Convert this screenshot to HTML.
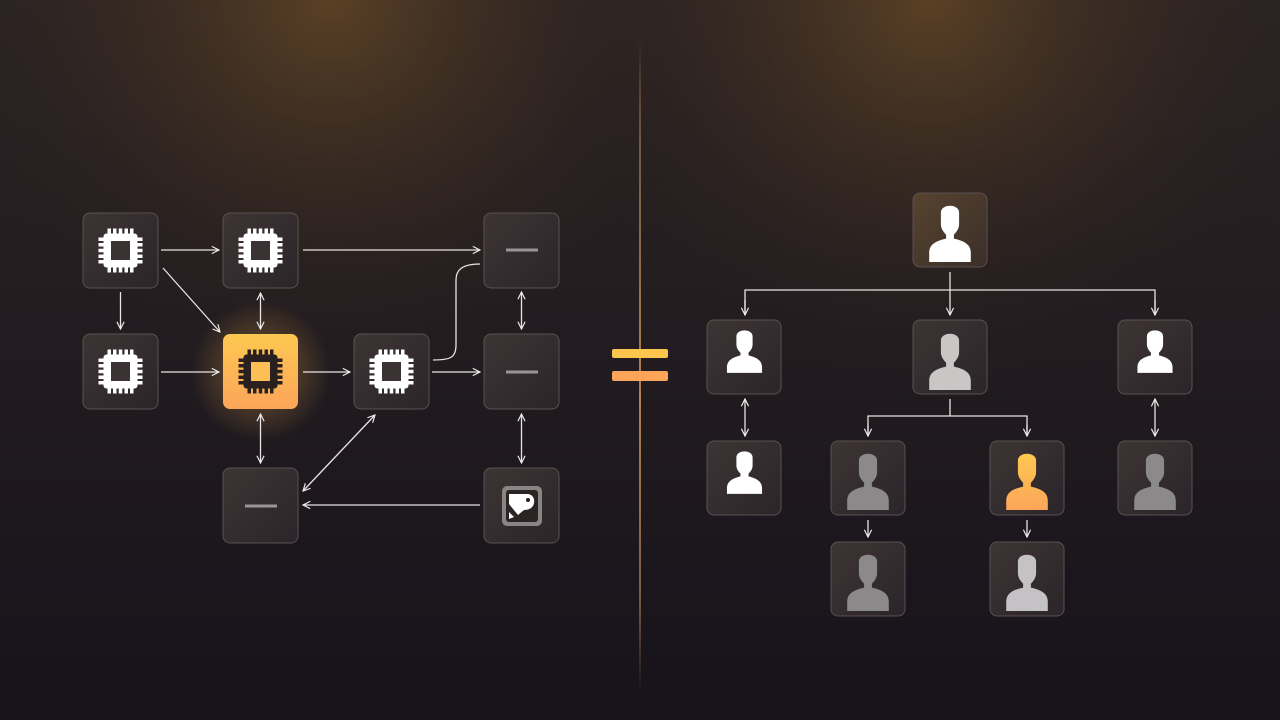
<!DOCTYPE html>
<html><head><meta charset="utf-8"><style>
html,body{margin:0;padding:0;width:1280px;height:720px;overflow:hidden;background:#1c171b}
</style></head><body>
<svg width="1280" height="720" viewBox="0 0 1280 720" xmlns="http://www.w3.org/2000/svg">
<defs>
<radialGradient id="g1" cx="330" cy="0" r="420" gradientUnits="userSpaceOnUse"><stop offset="0" stop-color="#6a4a25" stop-opacity="0.75"/><stop offset="1" stop-color="#1c171b" stop-opacity="0"/></radialGradient>
<radialGradient id="g2" cx="930" cy="0" r="420" gradientUnits="userSpaceOnUse"><stop offset="0" stop-color="#6a4a25" stop-opacity="0.75"/><stop offset="1" stop-color="#1c171b" stop-opacity="0"/></radialGradient>
<linearGradient id="bg" x1="0" y1="0" x2="0" y2="1"><stop offset="0" stop-color="#2c2424"/><stop offset="1" stop-color="#17131b"/></linearGradient>
<linearGradient id="node" x1="0" y1="0" x2="1" y2="1"><stop offset="0" stop-color="#3d3434"/><stop offset="1" stop-color="#2b2529"/></linearGradient>
<linearGradient id="nodeTop" x1="0" y1="0" x2="1" y2="1"><stop offset="0" stop-color="#57432f"/><stop offset="1" stop-color="#3a2f29"/></linearGradient>
<linearGradient id="orange" x1="0" y1="0" x2="0" y2="1"><stop offset="0" stop-color="#fdc850"/><stop offset="1" stop-color="#fca55a"/></linearGradient>
<linearGradient id="div" gradientUnits="userSpaceOnUse" x1="640" y1="40" x2="640" y2="690"><stop offset="0" stop-color="#8a6a4a" stop-opacity="0"/><stop offset="0.15" stop-color="#6e5848"/><stop offset="0.55" stop-color="#b08050"/><stop offset="0.85" stop-color="#7a5e48"/><stop offset="1" stop-color="#8a6a4a" stop-opacity="0"/></linearGradient>
<radialGradient id="glow"><stop offset="0" stop-color="#fcb54a" stop-opacity="0.4"/><stop offset="1" stop-color="#fcb54a" stop-opacity="0"/></radialGradient>
<marker id="a" viewBox="0 0 10 10" refX="9" refY="5" markerWidth="9" markerHeight="9" orient="auto-start-reverse" markerUnits="userSpaceOnUse"><path d="M1 1 L9 5 L1 9" fill="none" stroke="#eee" stroke-width="1.3"/></marker>
<g id="chip">
<g fill="#fff">
<rect x="-17" y="-17" width="34" height="34" rx="3"/>
<rect x="-13" y="-22" width="3.5" height="44"/><rect x="-7.5" y="-22" width="3.5" height="44"/><rect x="-1.75" y="-22" width="3.5" height="44"/><rect x="4" y="-22" width="3.5" height="44"/><rect x="9.5" y="-22" width="3.5" height="44"/>
<rect x="-22" y="-13" width="44" height="3.5"/><rect x="-22" y="-7.5" width="44" height="3.5"/><rect x="-22" y="-1.75" width="44" height="3.5"/><rect x="-22" y="4" width="44" height="3.5"/><rect x="-22" y="9.5" width="44" height="3.5"/>
</g>
<rect x="-9.5" y="-9.5" width="19" height="19" fill="#3a3233"/>
</g>
<path id="person" d="M-7 -18 C-7 -25 7 -25 7 -18 L7 -9 C7 -5 4 -2 3 -1 L3 2 C12 4 16 7 16 13 L16 20 L-16 20 L-16 13 C-16 7 -12 4 -3 2 L-3 -1 C-4 -2 -7 -5 -7 -9 Z"/>
<path id="personS" d="M-6 -13 C-6 -19 6 -19 6 -13 L6 -7 C6 -4 4 -2 3 -1 L3 1 C11 3 13 6 13 10 L13 14 L-13 14 L-13 10 C-13 6 -11 3 -3 1 L-3 -1 C-4 -2 -6 -4 -6 -7 Z"/>
</defs>
<rect width="1280" height="720" fill="url(#bg)"/>
<rect width="1280" height="720" fill="url(#g1)"/>
<rect width="1280" height="720" fill="url(#g2)"/>
<line x1="640" y1="40" x2="640" y2="690" stroke="url(#div)" stroke-width="2"/>
<rect x="612" y="349" width="56" height="9" rx="2" fill="#fcc54e"/>
<rect x="612" y="371" width="56" height="10" rx="2" fill="#fca55a"/>

<g stroke="#5a5050" stroke-width="1">
<rect x="83" y="213" width="75" height="75" rx="7" fill="url(#node)"/>
<rect x="223" y="213" width="75" height="75" rx="7" fill="url(#node)"/>
<rect x="484" y="213" width="75" height="75" rx="7" fill="url(#node)"/>
<rect x="83" y="334" width="75" height="75" rx="7" fill="url(#node)"/>
<rect x="354" y="334" width="75" height="75" rx="7" fill="url(#node)"/>
<rect x="484" y="334" width="75" height="75" rx="7" fill="url(#node)"/>
<rect x="223" y="468" width="75" height="75" rx="7" fill="url(#node)"/>
<rect x="484" y="468" width="75" height="75" rx="7" fill="url(#node)"/>
</g>
<circle cx="260.5" cy="371.5" r="70" fill="url(#glow)"/>
<rect x="223" y="334" width="75" height="75" rx="7" fill="url(#orange)"/>
<use href="#chip" x="120.5" y="250.5"/>
<use href="#chip" x="260.5" y="250.5"/>
<use href="#chip" x="120.5" y="371.5"/>
<use href="#chip" x="391.5" y="371.5"/>
<g transform="translate(260.5 371.5)">
<g fill="#2a2020">
<rect x="-17" y="-17" width="34" height="34" rx="3"/>
<rect x="-13" y="-22" width="3.5" height="44"/><rect x="-7.5" y="-22" width="3.5" height="44"/><rect x="-1.75" y="-22" width="3.5" height="44"/><rect x="4" y="-22" width="3.5" height="44"/><rect x="9.5" y="-22" width="3.5" height="44"/>
<rect x="-22" y="-13" width="44" height="3.5"/><rect x="-22" y="-7.5" width="44" height="3.5"/><rect x="-22" y="-1.75" width="44" height="3.5"/><rect x="-22" y="4" width="44" height="3.5"/><rect x="-22" y="9.5" width="44" height="3.5"/>
</g>
<rect x="-9.5" y="-9.5" width="19" height="19" fill="#fdbf55"/>
</g>
<g stroke="#9a9494" stroke-width="3">
<line x1="506" y1="250" x2="538" y2="250"/>
<line x1="506" y1="372" x2="538" y2="372"/>
<line x1="245" y1="506" x2="277" y2="506"/>
</g>
<rect x="502" y="486" width="40" height="40" rx="5" fill="#8a8585"/>
<rect x="506" y="490" width="32" height="32" rx="3" fill="#2a2424"/>
<path d="M509 494 L527 494 C532 494 535 498 534 503 C533 508 529 510 524 510 L518 515 L513 509 L509 504 Z" fill="#fff"/>
<path d="M509 512 L514 517 L509 519 Z" fill="#fff"/>
<circle cx="528" cy="500" r="2" fill="#2a2424"/>

<g stroke="#e8e4e4" stroke-width="1.3" fill="none">
<line x1="161" y1="250" x2="219" y2="250" marker-end="url(#a)"/>
<line x1="303" y1="250" x2="480" y2="250" marker-end="url(#a)"/>
<line x1="120.5" y1="292" x2="120.5" y2="329" marker-end="url(#a)"/>
<line x1="163" y1="268" x2="220" y2="332" marker-end="url(#a)"/>
<line x1="260.5" y1="293" x2="260.5" y2="329" marker-start="url(#a)" marker-end="url(#a)"/>
<line x1="161" y1="372" x2="219" y2="372" marker-end="url(#a)"/>
<line x1="303" y1="372" x2="350" y2="372" marker-end="url(#a)"/>
<line x1="432" y1="372" x2="480" y2="372" marker-end="url(#a)"/>
<path d="M433 360 C450 360 456 358 456 345 L456 280 C456 270 462 264 480 264"/>
<line x1="521.5" y1="292" x2="521.5" y2="329" marker-start="url(#a)" marker-end="url(#a)"/>
<line x1="260.5" y1="414" x2="260.5" y2="463" marker-start="url(#a)" marker-end="url(#a)"/>
<line x1="375" y1="415" x2="303" y2="491" marker-start="url(#a)" marker-end="url(#a)"/>
<line x1="521.5" y1="414" x2="521.5" y2="463" marker-start="url(#a)" marker-end="url(#a)"/>
<line x1="480" y1="505" x2="303" y2="505" marker-end="url(#a)"/>
</g>

<g stroke="#5a5050" stroke-width="1">
<rect x="913" y="193" width="74" height="74" rx="7" fill="url(#nodeTop)"/>
<rect x="707" y="320" width="74" height="74" rx="7" fill="url(#node)"/>
<rect x="913" y="320" width="74" height="74" rx="7" fill="url(#node)"/>
<rect x="1118" y="320" width="74" height="74" rx="7" fill="url(#node)"/>
<rect x="707" y="441" width="74" height="74" rx="7" fill="url(#node)"/>
<rect x="831" y="441" width="74" height="74" rx="7" fill="url(#node)"/>
<rect x="990" y="441" width="74" height="74" rx="7" fill="url(#node)"/>
<rect x="1118" y="441" width="74" height="74" rx="7" fill="url(#node)"/>
<rect x="831" y="542" width="74" height="74" rx="7" fill="url(#node)"/>
<rect x="990" y="542" width="74" height="74" rx="7" fill="url(#node)"/>
</g>
<use href="#person" transform="translate(950 236) scale(1.3)" fill="#ffffff"/>
<use href="#personS" transform="translate(744.5 354) scale(1.35)" fill="#ffffff"/>
<use href="#person" transform="translate(950 364) scale(1.3)" fill="#c9c6c6"/>
<use href="#personS" transform="translate(1155 354) scale(1.35)" fill="#ffffff"/>
<use href="#personS" transform="translate(744.5 475) scale(1.35)" fill="#ffffff"/>
<use href="#person" transform="translate(868 484) scale(1.3)" fill="#8c898a"/>
<use href="#person" transform="translate(1027 484) scale(1.3)" fill="url(#orange)"/>
<use href="#person" transform="translate(1155 484) scale(1.3)" fill="#8c898a"/>
<use href="#person" transform="translate(868 585) scale(1.3)" fill="#8c898a"/>
<use href="#person" transform="translate(1027 585) scale(1.3)" fill="#c4c2c4"/>

<g stroke="#e8e4e4" stroke-width="1.3" fill="none">
<line x1="950" y1="272" x2="950" y2="315" marker-end="url(#a)"/>
<polyline points="745,315 745,290 1155,290 1155,315" />
<line x1="745" y1="300" x2="745" y2="315" marker-end="url(#a)"/>
<line x1="1155" y1="300" x2="1155" y2="315" marker-end="url(#a)"/>
<line x1="950" y1="399" x2="950" y2="416"/>
<polyline points="868,436 868,416 1027,416 1027,436"/>
<line x1="868" y1="425" x2="868" y2="436" marker-end="url(#a)"/>
<line x1="1027" y1="425" x2="1027" y2="436" marker-end="url(#a)"/>
<line x1="745" y1="399" x2="745" y2="436" marker-start="url(#a)" marker-end="url(#a)"/>
<line x1="1155" y1="399" x2="1155" y2="436" marker-start="url(#a)" marker-end="url(#a)"/>
<line x1="868" y1="520" x2="868" y2="537" marker-end="url(#a)"/>
<line x1="1027" y1="520" x2="1027" y2="537" marker-end="url(#a)"/>
</g>
</svg>
</body></html>
